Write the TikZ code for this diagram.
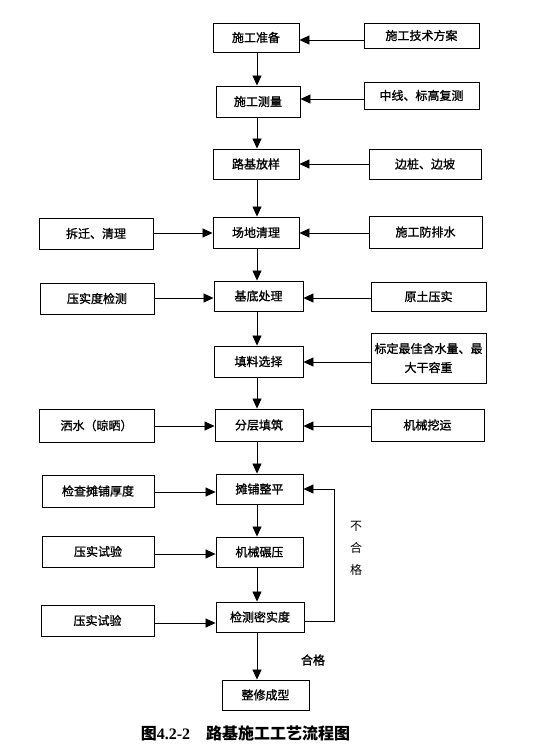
\documentclass[tikz,border=0pt]{standalone}
\usepackage{fontspec}
\setmainfont{Noto Sans CJK SC}
\newfontfamily\boxfont{Noto Sans CJK SC}[FakeBold=1.2]
\newfontfamily\capserif{Liberation Serif}
\usetikzlibrary{arrows.meta}
\begin{document}
\begin{tikzpicture}[x=1pt,y=-1pt,
  box/.style={draw, line width=0.9pt, inner sep=0pt, align=center, font=\boxfont\fontsize{12}{19}\selectfont},
  arr/.style={line width=0.8pt, -{Triangle[length=10pt,width=9pt]}},
  lbl/.style={font=\fontsize{12}{14}\selectfont, inner sep=0pt}]
\useasboundingbox (0,0) rectangle (554,752);
% main column
\node[box, minimum width=86pt, minimum height=29pt] (a1) at (256,37.5) {施工准备};
\node[box, minimum width=84pt, minimum height=31pt] (a2) at (258,101.5) {施工测量};
\node[box, minimum width=86pt, minimum height=30pt] (a3) at (256,164) {路基放样};
\node[box, minimum width=86pt, minimum height=31pt] (a4) at (256,232.5) {场地清理};
\node[box, minimum width=89pt, minimum height=30pt] (a5) at (258.5,296) {基底处理};
\node[box, minimum width=89pt, minimum height=31pt] (a6) at (258.5,361.5) {填料选择};
\node[box, minimum width=88pt, minimum height=32pt] (a7) at (259,425) {分层填筑};
\node[box, minimum width=87pt, minimum height=30pt] (a8) at (259.5,489) {摊铺整平};
\node[box, minimum width=87pt, minimum height=30pt] (a9) at (259.5,552) {机械碾压};
\node[box, minimum width=88pt, minimum height=30pt] (a10) at (260,617) {检测密实度};
\node[box, minimum width=87pt, minimum height=30pt] (a11) at (265.5,695) {整修成型};
% right column
\node[box, minimum width=115pt, minimum height=25pt] (r1) at (421.5,35.5) {施工技术方案};
\node[box, minimum width=115pt, minimum height=27pt] (r2) at (421.5,95.5) {中线、标高复测};
\node[box, minimum width=112pt, minimum height=30pt] (r3) at (425,164) {边桩、边坡};
\node[box, minimum width=113pt, minimum height=32pt] (r4) at (425.5,232) {施工防排水};
\node[box, minimum width=115pt, minimum height=29pt] (r5) at (428.5,296.5) {原土压实};
\node[box, minimum width=115pt, minimum height=50pt] (r6) at (428.5,358) {标定最佳含水量、最\\大干容重};
\node[box, minimum width=113pt, minimum height=32pt] (r7) at (427.5,425) {机械挖运};
% left column
\node[box, minimum width=114pt, minimum height=31pt] (l4) at (96,233.5) {拆迁、清理};
\node[box, minimum width=114pt, minimum height=31pt] (l5) at (97,298.5) {压实度检测};
\node[box, minimum width=115pt, minimum height=33pt] (l7) at (96.5,425.5) {洒水（晾晒）};
\node[box, minimum width=112pt, minimum height=32pt] (l8) at (98,491) {检查摊铺厚度};
\node[box, minimum width=112pt, minimum height=31pt] (l9) at (98,551.5) {压实试验};
\node[box, minimum width=113pt, minimum height=31pt] (l10) at (97.5,620.5) {压实试验};
% row coordinates
\coordinate (vx) at (257,0);
\coordinate (y1) at (0,40);
\coordinate (y2) at (0,99);
\coordinate (y3) at (0,164);
\coordinate (y4) at (0,233);
\coordinate (y5) at (0,298);
\coordinate (y6) at (0,362);
\coordinate (y7) at (0,426);
\coordinate (y8) at (0,492);
\coordinate (y9) at (0,554);
\coordinate (y10) at (0,623);
\coordinate (fb) at (334,0);
% vertical arrows
\draw[arr] (a1.south -| vx) -- (a2.north -| vx);
\draw[arr] (a2.south -| vx) -- (a3.north -| vx);
\draw[arr] (a3.south -| vx) -- (a4.north -| vx);
\draw[arr] (a4.south -| vx) -- (a5.north -| vx);
\draw[arr] (a5.south -| vx) -- (a6.north -| vx);
\draw[arr] (a6.south -| vx) -- (a7.north -| vx);
\draw[arr] (a7.south -| vx) -- (a8.north -| vx);
\draw[arr] (a8.south -| vx) -- (a9.north -| vx);
\draw[arr] (a9.south -| vx) -- (a10.north -| vx);
\draw[arr] (a10.south -| vx) -- (a11.north -| vx);
% right inputs
\draw[arr] (r1.west |- y1) -- (a1.east |- y1);
\draw[arr] (r2.west |- y2) -- (a2.east |- y2);
\draw[arr] (r3.west |- y3) -- (a3.east |- y3);
\draw[arr] (r4.west |- y4) -- (a4.east |- y4);
\draw[arr] (r5.west |- y5) -- (a5.east |- y5);
\draw[arr] (r6.west |- y6) -- (a6.east |- y6);
\draw[arr] (r7.west |- y7) -- (a7.east |- y7);
% left inputs
\draw[arr] (l4.east |- y4) -- (a4.west |- y4);
\draw[arr] (l5.east |- y5) -- (a5.west |- y5);
\draw[arr] (l7.east |- y7) -- (a7.west |- y7);
\draw[arr] (l8.east |- y8) -- (a8.west |- y8);
\draw[arr] (l9.east |- y9) -- (a9.west |- y9);
\draw[arr] (l10.east |- y10) -- (a10.west |- y10);
% feedback loop
\coordinate (fbl) at (0,621);
\coordinate (fbt) at (0,489);
\draw[arr] (a10.east |- fbl) -- (fb |- fbl) -- (fb |- fbt) -- (a8.east |- fbt);
\node[lbl, align=center] (ng) at (356,548) {不\\[8pt]合\\[8pt]格};
\node[lbl, font=\boxfont\fontsize{12}{14}\selectfont] (ok) at (313,660) {合格};
% caption
\node[inner sep=0pt, font=\fontsize{16}{18}\selectfont\bfseries] (cap) at (245.5,733) {图{\capserif\bfseries 4.2-2}\quad 路基施工工艺流程图};
\end{tikzpicture}
\end{document}
